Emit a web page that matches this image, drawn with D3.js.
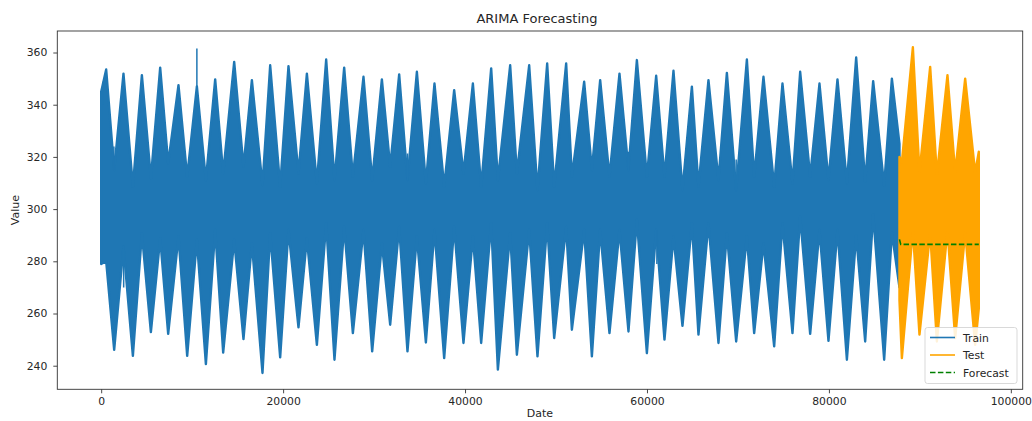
<!DOCTYPE html>
<html>
<head>
<meta charset="utf-8">
<script src="https://cdn.jsdelivr.net/npm/d3@7"></script>
<style>
  html, body { margin: 0; padding: 0; background: #fff; }
  svg { display: block; font-family: "DejaVu Sans", sans-serif; }
</style>
</head>
<body>
<svg id="chart" width="1032" height="421"></svg>
<script>
// ---------------- DATA ----------------
// Dense hourly-like series rendered as its per-cycle envelope:
// each cycle has an upper spike (peak) and a lower spike (trough).
const trainPeakX  = [550, 2451, 4474, 6486, 8498, 10520, 12532, 14621, 16567, 18578, 20590, 22613, 24734,
                     26713, 28835, 30857, 32759, 34705, 36640, 38805, 40861, 42873, 44961, 47050, 49029, 51117, 53096,
                     54855, 56977, 58889, 61011, 62913, 64936, 66760, 68783, 70982, 72807, 74895, 76841, 78963, 80942,
                     82997, 84866, 86922];
const trainPeakHi = [353.5, 351.9, 351.3, 354.2, 347.5, 347, 349.7, 356.4, 349.4, 355.1, 354.8, 351.9, 357.3,
                     354.2, 350.7, 349.7, 351.6, 352.6, 348.1, 345.6, 348.1, 353.9, 355.1, 355.1, 355.8, 355.8, 348.8,
                     349.4, 351.9, 357.1, 351.1, 353, 346.9, 349.4, 352.2, 357.3, 350.7, 348.1, 352.6, 348.1, 349.7,
                     358.1, 349, 350];
const trainPeakLo = [280, 285.6, 290.7, 288.8, 289.5, 288.2, 292, 288.2, 286.9, 290.7, 292, 288.8, 294.6,
                     293.3, 292, 286.9, 293.3, 289.5, 292, 293.3, 289.5, 294.6, 290.7, 292, 294.6, 293.3, 292,
                     292, 292, 295.9, 292, 289.5, 294.6, 294.6, 290.7, 289.5, 286.9, 294.6, 297.1, 292, 292,
                     290, 298, 291];
const trainTroughX  = [1429, 3485, 5464, 7365, 9454, 11510, 13411, 15643, 17732, 19677, 21689, 23712, 25647,
                       27669, 29791, 31770, 33671, 35694, 37706, 39828, 41773, 43609, 45698, 47962, 49798, 51744,
                       53942, 55877, 57966, 59989, 61924, 63902, 65661, 67860, 69806, 71784, 73983, 75995, 77940,
                       79952, 81976, 83987, 86075];
const trainTroughLo = [246.1, 243.8, 252.9, 252.2, 243.8, 240.6, 245, 250.2, 237.2, 243.2, 254.7, 248, 242.3,
                       252.5, 245.5, 255.7, 245.5, 248.9, 242.9, 248.7, 248.7, 238.5, 244.2, 243.6, 250.6, 253.8,
                       243.6, 252.5, 253.1, 244.8, 250, 255.3, 251.9, 248.7, 249.3, 252.5, 247.4, 252.5, 252.2,
                       249.5, 242.3, 249.3, 242.3];
const trainTroughHi = [315, 308.6, 311.8, 317.5, 312.4, 311.1, 313.7, 316.2, 309.2, 308.6, 313.7, 309.9, 311.1,
                       312.4, 311.1, 316.2, 311.1, 309.9, 308.6, 313.7, 308.6, 311.1, 313.7, 307.3, 308.6, 312.4,
                       315, 312.4, 315, 312.4, 312.4, 307.3, 308.6, 311.1, 307.3, 312.4, 308.6, 309.9, 312.4,
                       311.1, 310, 310.5, 309];
const trainEdgeX  = [0, 87757];
const trainEdgeHi = [345, 325];
const trainEdgeLo = [279, 270];

// isolated thin excursions of the train line
const trainSpikeX    = [200, 1396, 2473, 10520, 33671, 43102, 57966, 61088, 69806];
const trainSpikeFrom = [340, 315, 286, 346, 311, 322, 315, 292, 307];
const trainSpikeTo   = [348.8, 324, 270, 361.5, 321.3, 339, 322, 279, 319];

const testPeakX    = [89230, 91132, 93034, 94980];
const testPeakHi   = [362, 354.5, 351.3, 350];
const testPeakLo   = [292, 291, 292, 291];
const testTroughX  = [88021, 89956, 91869, 93880, 96079];
const testTroughLo = [242.9, 251.9, 249.3, 250.6, 248];
const testTroughHi = [318, 314, 313, 314, 314];
const testEdgeX  = [87757, 96480];
const testEdgeHi = [320, 322];
const testEdgeLo = [265, 262];

const forecastX = [87757, 87900, 96480];
const forecastY = [288.4, 286.5, 286.5];

const xTicks = [0, 20000, 40000, 60000, 80000, 100000];
const yTicks = [240, 260, 280, 300, 320, 340, 360];
const seriesNames = ["Train", "Test", "Forecast"];

// ---------------- LAYOUT ----------------
const plot = { left: 57.3, right: 1022.7, top: 31, bottom: 389.3 };
const colors = { train: "#1f77b4", test: "#ffa500", forecast: "#008000" };

function envelope(edgeX, edgeHi, edgeLo, pX, pHi, pLo, tX, tLo, tHi) {
  const pts = [];
  edgeX.forEach((x, i) => pts.push({ x, hi: edgeHi[i], lo: edgeLo[i] }));
  pX.forEach((x, i) => pts.push({ x, hi: pHi[i], lo: pLo[i] }));
  tX.forEach((x, i) => pts.push({ x, hi: tHi[i], lo: tLo[i] }));
  return pts.sort((a, b) => a.x - b.x);
}
const train = envelope(trainEdgeX, trainEdgeHi, trainEdgeLo, trainPeakX, trainPeakHi, trainPeakLo,
                       trainTroughX, trainTroughLo, trainTroughHi);
const test = envelope(testEdgeX, testEdgeHi, testEdgeLo, testPeakX, testPeakHi, testPeakLo,
                      testTroughX, testTroughLo, testTroughHi);

const allX = train.map(d => d.x).concat(test.map(d => d.x));
const allY = train.flatMap(d => [d.hi, d.lo]).concat(test.flatMap(d => [d.hi, d.lo]))
  .concat(trainSpikeTo);
const [x0, x1] = d3.extent(allX), [y0, y1] = d3.extent(allY);
const xr = x1 - x0, yr = y1 - y0;

const x = d3.scaleLinear().domain([x0 - 0.05 * xr, x1 + 0.05 * xr]).range([plot.left, plot.right]);
const y = d3.scaleLinear().domain([y0 - 0.05 * yr, y1 + 0.05 * yr]).range([plot.bottom, plot.top]);

const svg = d3.select("#chart");
svg.append("defs").append("clipPath").attr("id", "clip")
  .append("rect").attr("x", plot.left).attr("y", plot.top)
  .attr("width", plot.right - plot.left).attr("height", plot.bottom - plot.top);

const g = svg.append("g").attr("clip-path", "url(#clip)");
const area = d3.area().x(d => x(d.x)).y0(d => y(d.lo)).y1(d => y(d.hi));

g.append("path").datum(train).attr("d", area)
  .attr("fill", colors.train).attr("stroke", colors.train).attr("stroke-width", 2.4)
  .attr("stroke-linejoin", "round");
trainSpikeX.forEach((sx, i) => {
  g.append("line").attr("x1", x(sx)).attr("x2", x(sx))
    .attr("y1", y(trainSpikeFrom[i])).attr("y2", y(trainSpikeTo[i]))
    .attr("stroke", colors.train).attr("stroke-width", 1.5);
});
g.append("path").datum(test).attr("d", area)
  .attr("fill", colors.test).attr("stroke", colors.test).attr("stroke-width", 2.4)
  .attr("stroke-linejoin", "round");

const fc = forecastX.map((fx, i) => ({ x: fx, y: forecastY[i] }));
g.append("path").datum(fc)
  .attr("d", d3.line().x(d => x(d.x)).y(d => y(d.y)))
  .attr("fill", "none").attr("stroke", colors.forecast).attr("stroke-width", 1.6)
  .attr("stroke-dasharray", "5.5,2.4");

// ---------------- AXES ----------------
const textColor = "#262626";
const xAxis = svg.append("g").attr("transform", `translate(0,${plot.bottom})`)
  .call(d3.axisBottom(x).tickValues(xTicks).tickFormat(d3.format("d")).tickSize(4).tickPadding(4));
const yAxis = svg.append("g").attr("transform", `translate(${plot.left},0)`)
  .call(d3.axisLeft(y).tickValues(yTicks).tickFormat(d3.format("d")).tickSize(4).tickPadding(6));
[xAxis, yAxis].forEach(a => {
  a.select(".domain").remove();
  a.selectAll(".tick line").attr("stroke", "#333").attr("stroke-width", 0.9);
  a.selectAll(".tick text").attr("fill", textColor).style("font-size", "10.8px")
    .style("font-family", "DejaVu Sans");
});

svg.append("rect").attr("x", plot.left).attr("y", plot.top)
  .attr("width", plot.right - plot.left).attr("height", plot.bottom - plot.top)
  .attr("fill", "none").attr("stroke", "#333").attr("stroke-width", 0.9);

svg.append("text").attr("x", (plot.left + plot.right) / 2 - 3).attr("y", 22.5)
  .attr("text-anchor", "middle").attr("fill", textColor).style("font-size", "13px")
  .text("ARIMA Forecasting");
svg.append("text").attr("transform", `translate(19,${(plot.top + plot.bottom) / 2}) rotate(-90)`)
  .attr("text-anchor", "middle").attr("fill", textColor).style("font-size", "11px").text("Value");
svg.append("text").attr("x", (plot.left + plot.right) / 2).attr("y", 417)
  .attr("text-anchor", "middle").attr("fill", textColor).style("font-size", "11px").text("Date");

// ---------------- LEGEND ----------------
const leg = svg.append("g").attr("transform", "translate(925,327.5)");
leg.append("rect").attr("width", 92).attr("height", 56).attr("rx", 2.5)
  .attr("fill", "rgba(255,255,255,0.85)").attr("stroke", "#d5d5d5").attr("stroke-width", 0.9);
const legColors = [colors.train, colors.test, colors.forecast];
seriesNames.forEach((name, i) => {
  const ly = 10 + i * 17.5;
  leg.append("line").attr("x1", 5).attr("x2", 30).attr("y1", ly).attr("y2", ly)
    .attr("stroke", legColors[i]).attr("stroke-width", 1.6)
    .attr("stroke-dasharray", i === 2 ? "5.5,2.4" : null);
  leg.append("text").attr("x", 38).attr("y", ly + 4).attr("fill", textColor)
    .style("font-size", "10.8px").text(name);
});
</script>
</body>
</html>
